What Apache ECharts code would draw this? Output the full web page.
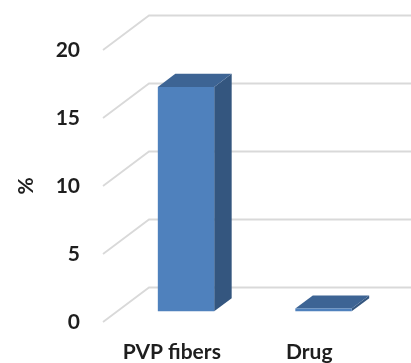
<!DOCTYPE html>
<html>
<head>
<meta charset="utf-8">
<script src="https://cdn.jsdelivr.net/npm/echarts@6/dist/echarts.min.js"></script>
<style>
  html, body { margin: 0; padding: 0; background: #ffffff; }
  #chart { width: 411px; height: 363px; }
</style>
</head>
<body>
<div id="chart"></div>
<script>
// Categories and values (%)
const categories = ['PVP fibers', 'Drug'];
const values = [16.5, 0.2];
// Value axis ticks
const yTicks = [0, 5, 10, 15, 20];

// Oblique projection of the depth axis (front plane -> back wall)
const DEPTH_X = 46;
const DEPTH_Y = -34.5;
// Bars occupy this slice of the depth
const BAR_DEPTH_FROM = 0.31;
const BAR_DEPTH_TO = 0.69;
const BAR_WIDTH_RATIO = 0.41;

const FONT = 'Lato, "Liberation Sans", sans-serif';
const TEXT_COLOR = '#1e1e1e';
const GRID_COLOR = '#d9d9d9';

const chart = echarts.init(document.getElementById('chart'), null, { renderer: 'canvas' });

function renderGridLine(params, api) {
  const cs = params.coordSys;
  const p = api.coord([0, api.value(1)]);
  const y = p[1];
  const x0 = cs.x;
  return {
    type: 'polyline',
    silent: true,
    shape: {
      points: [
        [x0, y],
        [x0 + DEPTH_X, y + DEPTH_Y],
        [api.getWidth(), y + DEPTH_Y]
      ]
    },
    style: { stroke: GRID_COLOR, lineWidth: 1.8, fill: null }
  };
}

function renderBar(params, api) {
  const idx = api.value(0);
  const base = api.coord([idx, 0]);
  const top = api.coord([idx, api.value(1)]);
  const band = api.size([1, 0])[0];
  const w = band * BAR_WIDTH_RATIO;
  const fx = DEPTH_X * BAR_DEPTH_FROM;
  const fy = DEPTH_Y * BAR_DEPTH_FROM;
  const dx = DEPTH_X * (BAR_DEPTH_TO - BAR_DEPTH_FROM);
  const dy = DEPTH_Y * (BAR_DEPTH_TO - BAR_DEPTH_FROM);
  const left = base[0] - w / 2 + fx;
  const right = left + w;
  const bottom = base[1] + fy;
  const topY = top[1] + fy;
  return {
    type: 'group',
    children: [
      {
        type: 'polygon',
        shape: { points: [[right, topY], [right + dx, topY + dy], [right + dx, bottom + dy], [right, bottom]] },
        style: { fill: '#34567f' }
      },
      {
        type: 'polygon',
        shape: { points: [[left, topY], [left + dx, topY + dy], [right + dx, topY + dy], [right, topY]] },
        style: { fill: '#3d6494' }
      },
      {
        type: 'rect',
        shape: { x: left, y: topY, width: w, height: bottom - topY },
        style: { fill: '#4f81bd' }
      }
    ]
  };
}

chart.setOption({
  animation: false,
  grid: { left: 103, top: 50, width: 275, height: 275, containLabel: false },
  xAxis: {
    type: 'category',
    data: categories,
    axisLine: { show: false },
    axisTick: { show: false },
    splitLine: { show: false },
    axisLabel: {
      margin: 20,
      fontFamily: FONT,
      fontWeight: 'bold',
      fontSize: 21,
      color: TEXT_COLOR
    }
  },
  yAxis: {
    type: 'value',
    min: 0,
    max: 20,
    interval: 5,
    name: '%',
    nameLocation: 'middle',
    nameGap: 66,
    nameRotate: 90,
    nameTextStyle: { fontFamily: FONT, fontWeight: 'bold', fontSize: 21, color: TEXT_COLOR },
    axisLine: { show: false },
    axisTick: { show: false },
    splitLine: { show: false },
    axisLabel: {
      margin: 23,
      fontFamily: FONT,
      fontWeight: 'bold',
      fontSize: 21,
      color: TEXT_COLOR
    }
  },
  series: [
    {
      type: 'custom',
      z: 1,
      silent: true,
      clip: false,
      renderItem: renderGridLine,
      data: yTicks.map(v => [0, v])
    },
    {
      type: 'custom',
      z: 2,
      clip: false,
      renderItem: renderBar,
      data: values.map((v, i) => [i, v])
    }
  ]
});
</script>
</body>
</html>
